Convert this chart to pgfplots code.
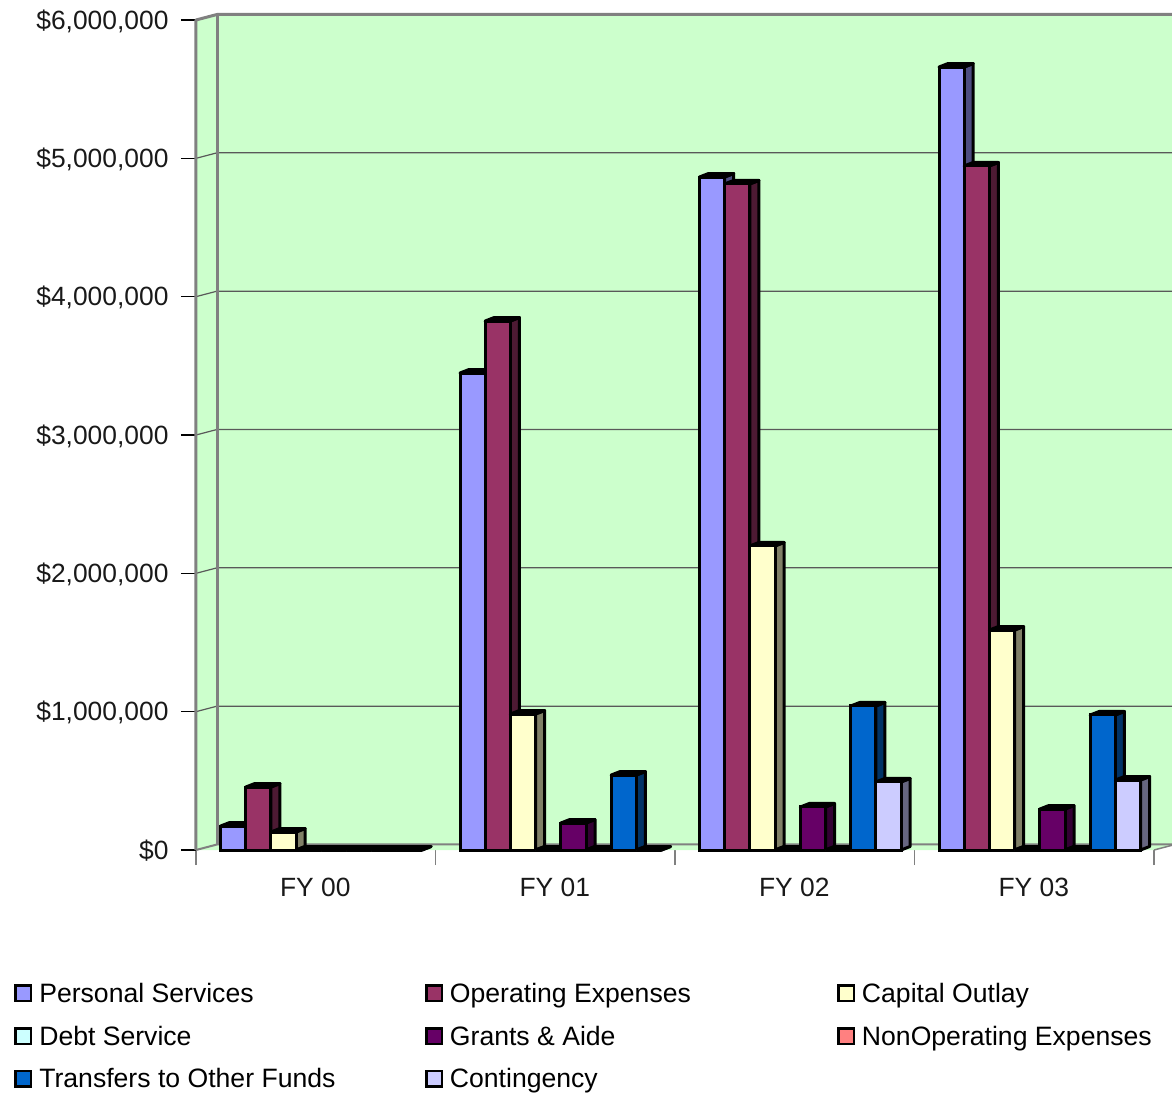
\documentclass[border=0pt]{standalone}
\usepackage{fontspec}
\setmainfont{Liberation Sans}
\usepackage{pgfplots}
\pgfplotsset{compat=1.18}

% 1pt here is one pixel of the reference
\definecolor{wall}{HTML}{CCFFCC}
\definecolor{edge}{HTML}{808080}
\definecolor{c1}{HTML}{9999FF}\definecolor{d1}{HTML}{4D4D80}
\definecolor{c2}{HTML}{993366}\definecolor{d2}{HTML}{4D1A33}
\definecolor{c3}{HTML}{FFFFCC}\definecolor{d3}{HTML}{808066}
\definecolor{c4}{HTML}{CCFFFF}\definecolor{d4}{HTML}{668080}
\definecolor{c5}{HTML}{660066}\definecolor{d5}{HTML}{330033}
\definecolor{c6}{HTML}{FF8080}\definecolor{d6}{HTML}{804040}
\definecolor{c7}{HTML}{0066CC}\definecolor{d7}{HTML}{003366}
\definecolor{c8}{HTML}{CCCCFF}\definecolor{d8}{HTML}{666680}

\pgfplotsset{
  face/.style={draw=black,line width=3pt,line join=round,forget plot},
  swatch/.style={legend image code/.code={
    \draw[draw=black,line width=2.6pt,##1] (0pt,-7.8pt) rectangle (15.6pt,7.8pt);}},
}

% side and top of one bar: series, group, value, side colour
\newcommand{\barfaces}[4]{%
  \pgfmathsetmacro{\xa}{#2+(24.5+25.2*#1)/239.5}%
  \pgfmathsetmacro{\xb}{\xa+25.2/239.5}%
  \pgfmathsetmacro{\xc}{\xb+9/239.5}%
  \pgfmathsetmacro{\xd}{\xa+9/239.5}%
  \pgfmathsetmacro{\yt}{#3+0.0253}%
  \edef\temp{\noexpand\addplot[face,fill=#4] coordinates
    {(\xb,0)(\xc,0.0253)(\xc,\yt)(\xb,#3)} --cycle;
    \noexpand\addplot[face,fill=black] coordinates
    {(\xa,#3)(\xd,\yt)(\xc,\yt)(\xb,#3)} --cycle;}%
  \temp}

% series index, name, values in millions for FY 00 to FY 03
\newcommand{\budget}[6]{%
  \pgfmathtruncatemacro{\cn}{#1+1}%
  \barfaces{#1}{0}{#3}{d\cn}%
  \barfaces{#1}{1}{#4}{d\cn}%
  \barfaces{#1}{2}{#5}{d\cn}%
  \barfaces{#1}{3}{#6}{d\cn}%
  \pgfmathsetmacro{\sh}{37.1+25.2*#1}%
  \edef\temp{\noexpand\addplot[ybar,swatch,bar width=25.2pt,bar shift=\sh pt,
      draw=black,line width=3pt,fill=c\cn] coordinates
    {(0,#3)(1,#4)(2,#5)(3,#6)};}%
  \temp
  \addlegendentry{#2}}

\begin{document}
\begin{tikzpicture}
\useasboundingbox (-196pt,-244pt) rectangle (976pt,850pt);
\begin{axis}[
    scale only axis,
    width=958pt, height=830pt,
    xmin=0, xmax=4,
    ymin=0, ymax=6,
    clip=false,
    axis line style={draw=none},
    tick align=outside,
    tick pos=left,
    major tick length=15pt,
    xtick={0,1,2,3,4},
    x tick label as interval,
    xticklabels={FY 00,FY 01,FY 02,FY 03},
    ytick={0,1,2,3,4,5,6},
    yticklabels={\$0,{\$1,000,000},{\$2,000,000},{\$3,000,000},{\$4,000,000},{\$5,000,000},{\$6,000,000}},
    x tick style={edge,line width=1.2pt},
    y tick style={black,line width=1.2pt},
    tick label style={font=\fontsize{26.4}{31}\selectfont,text=black!90},
    yticklabel style={xshift=-9pt,yshift=-1pt},
    xticklabel style={xshift=-0.5pt,yshift=-10pt},
    legend columns=3,
    legend cell align=left,
    legend style={
      at={(-181.7pt,-131pt)}, anchor=north west,
      draw=none, fill=none, inner sep=0pt, outer sep=0pt,
      font=\fontsize{26.6}{31}\selectfont,
      row sep=18pt,
      /tikz/column 1/.style={column sep=4.8pt},
      /tikz/column 2/.style={column sep=87.5pt},
      /tikz/column 3/.style={column sep=4.8pt},
      /tikz/column 4/.style={column sep=144pt},
      /tikz/column 5/.style={column sep=4.8pt},
    },
]
% floor and the two walls
\addplot[fill=wall,draw=none,forget plot] coordinates {(0,0)(0.0877,0.0398)(4.0877,0.0398)(4,0)} --cycle;
\addplot[fill=wall,draw=none,forget plot] coordinates {(0,0)(0,6)(0.0877,6.0398)(0.0877,0.0398)} --cycle;
\addplot[fill=wall,draw=none,forget plot] coordinates {(0.0877,0.0398)(0.0877,6.0398)(4.0877,6.0398)(4.0877,0.0398)} --cycle;
% grid lines
\addplot[black!65,line width=1.2pt,forget plot] coordinates {(0,1)(0.0877,1.0398)(4.0877,1.0398)};
\addplot[black!65,line width=1.2pt,forget plot] coordinates {(0,2)(0.0877,2.0398)(4.0877,2.0398)};
\addplot[black!65,line width=1.2pt,forget plot] coordinates {(0,3)(0.0877,3.0398)(4.0877,3.0398)};
\addplot[black!65,line width=1.2pt,forget plot] coordinates {(0,4)(0.0877,4.0398)(4.0877,4.0398)};
\addplot[black!65,line width=1.2pt,forget plot] coordinates {(0,5)(0.0877,5.0398)(4.0877,5.0398)};
% wall edges
\addplot[edge,line width=3pt,line join=round,forget plot] coordinates {(0,0)(0,6)(0.0877,6.0398)(4.0877,6.0398)};
\addplot[edge,line width=3pt,forget plot] coordinates {(0.0877,6.0398)(0.0877,0.0398)};
\addplot[edge,line width=2pt,forget plot] coordinates {(0,0)(0.0877,0.0398)(4.0877,0.0398)};
\addplot[edge,line width=1.5pt,forget plot] coordinates {(4,0)(4.0877,0.0398)};

\budget{0}{Personal Services}{0.173}{3.448}{4.865}{5.66}
\budget{1}{Operating Expenses}{0.455}{3.824}{4.815}{4.945}
\budget{2}{Capital Outlay}{0.13}{0.983}{2.198}{1.59}
\budget{3}{Debt Service}{0}{0}{0}{0}
\budget{4}{Grants \& Aide}{0}{0.195}{0.311}{0.296}
\budget{5}{NonOperating Expenses}{0}{0}{0}{0}
\budget{6}{Transfers to Other Funds}{0}{0.542}{1.041}{0.976}
\budget{7}{Contingency}{0}{0}{0.492}{0.506}
\end{axis}
\end{tikzpicture}
\end{document}
